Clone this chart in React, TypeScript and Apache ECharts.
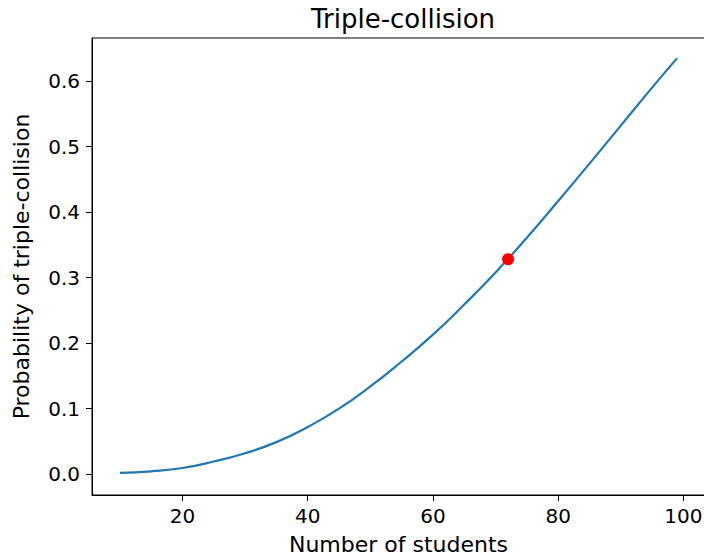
import React, { useEffect, useRef } from "react";
import * as echarts from "echarts";

const students = [10, 15, 20, 25, 30, 35, 40, 45, 50, 55, 60, 65, 70, 75, 80, 85, 90, 95, 99];
const probs = [0.002, 0.0045, 0.0095, 0.0195, 0.032, 0.049, 0.072, 0.100, 0.134, 0.172, 0.213, 0.259, 0.308, 0.361, 0.417, 0.474, 0.532, 0.590, 0.635];
const highlightN = [72];
const highlightP = [0.328];
const xTicks = [20, 40, 60, 80, 100];
const yTicks = [0, 0.1, 0.2, 0.3, 0.4, 0.5, 0.6];

const FONT = "DejaVu Sans";

export default function App() {
  const ref = useRef<HTMLDivElement>(null);
  useEffect(() => {
    if (!ref.current) return;
    const chart = echarts.init(ref.current, undefined, { renderer: "svg" });
    const lineData = students.map((n, i) => [n, probs[i]]);
    const pointData = highlightN.map((n, i) => [n, highlightP[i]]);
    chart.setOption({
      animation: false,
      backgroundColor: "#ffffff",
      textStyle: { fontFamily: FONT },
      title: {
        text: "Triple-collision",
        left: 398,
        textAlign: "center",
        top: 1,
        textStyle: { fontFamily: FONT, fontSize: 26, fontWeight: "normal", color: "#000" },
      },
      grid: {
        left: 92,
        right: -1,
        top: 38,
        bottom: 63,
        show: true,
        borderColor: "#000",
        borderWidth: 1,
        backgroundColor: "transparent",
        outerBoundsMode: "none",
        containLabel: false,
      },
      xAxis: {
        type: "value",
        min: 5.55,
        max: 103.45,
        name: "Number of students",
        nameLocation: "middle",
        nameGap: 38,
        nameTextStyle: { fontFamily: FONT, fontSize: 22, color: "#000" },
        axisLine: { show: true, onZero: false, lineStyle: { color: "#000", width: 1 } },
        axisTick: { show: true, inside: false, length: 6, lineStyle: { color: "#000" }, customValues: xTicks },
        axisLabel: { fontFamily: FONT, fontSize: 20, color: "#000", margin: 11, customValues: xTicks },
        splitLine: { show: false },
      },
      yAxis: {
        type: "value",
        min: -0.0317,
        max: 0.6657,
        name: "Probability of triple-collision",
        nameLocation: "middle",
        nameGap: 60,
        nameRotate: 90,
        nameTextStyle: { fontFamily: FONT, fontSize: 22, color: "#000" },
        axisLine: { show: true, onZero: false, lineStyle: { color: "#000", width: 1 } },
        axisTick: { show: true, inside: false, length: 6, lineStyle: { color: "#000" }, customValues: yTicks },
        axisLabel: {
          fontFamily: FONT,
          fontSize: 20,
          color: "#000",
          margin: 12,
          customValues: yTicks,
          formatter: (v: number) => v.toFixed(1),
        },
        splitLine: { show: false },
      },
      series: [
        {
          type: "line",
          data: lineData,
          smooth: 0.5,
          symbol: "none",
          lineStyle: { color: "#1f77b4", width: 2.2 },
          itemStyle: { color: "#1f77b4" },
          z: 2,
        },
        {
          type: "scatter",
          data: pointData,
          symbol: "circle",
          symbolSize: 12,
          itemStyle: { color: "#ff0000", opacity: 1 },
          z: 3,
        },
      ],
    });
    return () => chart.dispose();
  }, []);
  return (
    <div
      ref={ref}
      style={{ position: "fixed", left: 0, top: 0, width: 704, height: 558, background: "#fff" }}
    />
  );
}
